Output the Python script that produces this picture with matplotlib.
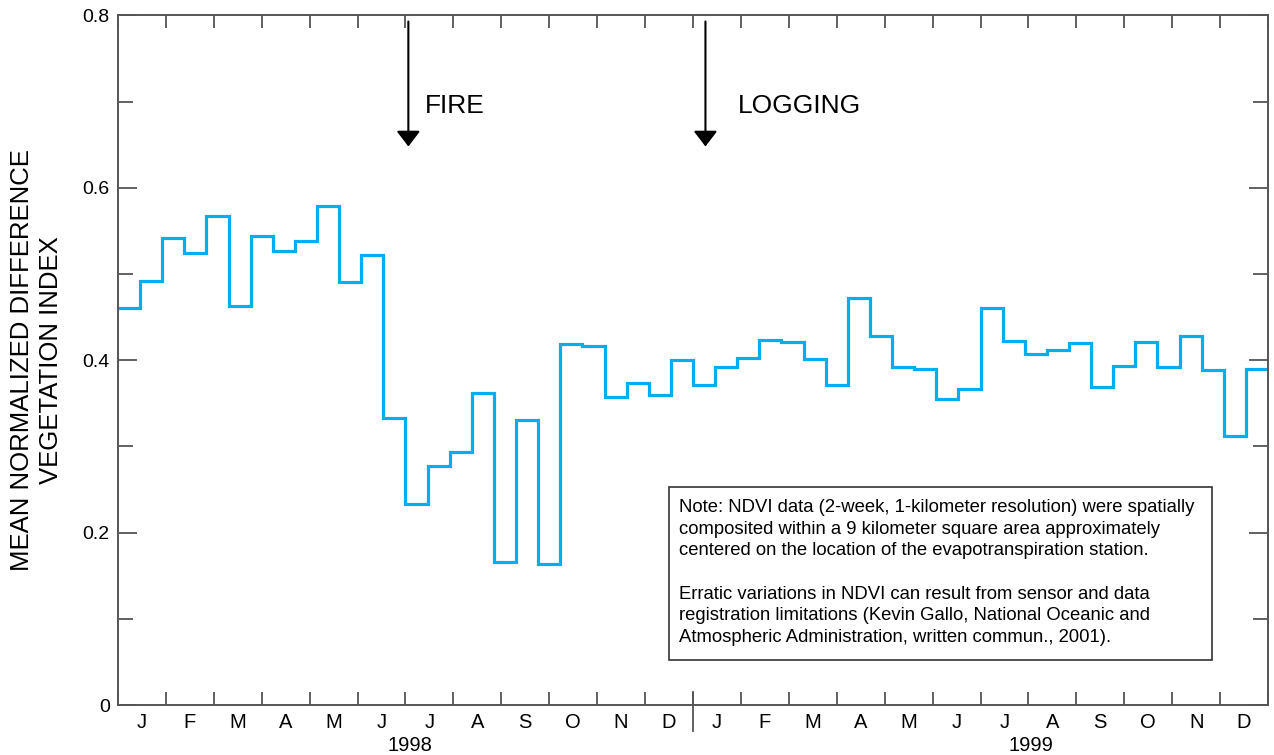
import numpy as np
import matplotlib
matplotlib.use("Agg")
import matplotlib.pyplot as plt
from matplotlib.patches import Rectangle

plt.rcParams['font.family'] = ['Liberation Sans', 'DejaVu Sans']

# 2-week NDVI composites, Jan 1998 - Dec 1999
ndvi = [0.461, 0.492, 0.542, 0.525, 0.567, 0.463, 0.544, 0.527, 0.538, 0.579,
        0.491, 0.522, 0.333, 0.233, 0.277, 0.294, 0.362, 0.166, 0.331, 0.164,
        0.419, 0.417, 0.357, 0.374, 0.360, 0.400, 0.371, 0.392, 0.403, 0.424,
        0.421, 0.401, 0.371, 0.472, 0.428, 0.392, 0.390, 0.355, 0.367, 0.461,
        0.422, 0.407, 0.412, 0.420, 0.369, 0.393, 0.421, 0.392, 0.428, 0.389,
        0.312, 0.390]
month_labels = ['J', 'F', 'M', 'A', 'M', 'J', 'J', 'A', 'S', 'O', 'N', 'D'] * 2
years = ['1998', '1999']
year_pos = [6.1, 19.06]
events = ['FIRE', 'LOGGING']
event_month = [6.06, 12.26]
event_text_x = [6.41, 12.93]

note = ("Note: NDVI data (2-week, 1-kilometer resolution) were spatially\n"
        "composited within a 9 kilometer square area approximately\n"
        "centered on the location of the evapotranspiration station.\n"
        "\n"
        "Erratic variations in NDVI can result from sensor and data\n"
        "registration limitations (Kevin Gallo, National Oceanic and\n"
        "Atmospheric Administration, written commun., 2001).")

axcol = '#555555'
edges = np.linspace(0, 24, len(ndvi) + 1)

fig = plt.figure(figsize=(12.74, 7.55), dpi=100)
ax = fig.add_axes([0.0926, 0.0662, 0.9027, 0.9133])

ax.stairs(ndvi, edges, baseline=None, color='#00aeef', lw=2.3)

ax.set_xlim(0, 24)
ax.set_ylim(0, 0.8)

# month ticks (lines) and month labels (minor, centred)
ax.set_xticks(np.arange(0, 25))
ax.set_xticklabels([])
ax.set_xticks(np.arange(0.5, 24), minor=True)
ax.set_xticklabels(month_labels, minor=True)
ax.tick_params(axis='x', which='major', direction='in', length=9.5, width=1.3,
               color=axcol, top=True, bottom=True)
ax.tick_params(axis='x', which='minor', length=0, pad=6, labelsize=14.5)

ax.set_yticks([0, 0.2, 0.4, 0.6, 0.8])
ax.set_yticklabels(['0', '0.2', '0.4', '0.6', '0.8'])
ax.set_yticks(np.arange(0.1, 0.8, 0.2), minor=True)
ax.tick_params(axis='y', which='major', direction='in', length=13.5, width=1.3,
               color=axcol, left=True, right=True, labelsize=14, pad=6)
ax.tick_params(axis='y', which='minor', direction='in', length=10.5, width=1.3,
               color=axcol, left=True, right=True)

for s in ax.spines.values():
    s.set_color(axcol)
    s.set_linewidth(1.4)

# year separator and year labels
ax.plot([12, 12], [-0.038, 0.019], color=axcol, lw=1.3,
        transform=ax.get_xaxis_transform(), clip_on=False)
for yr, xp in zip(years, year_pos):
    ax.text(xp, -0.059, yr, transform=ax.get_xaxis_transform(),
            ha='center', va='center', fontsize=14.5)

ax.set_ylabel('MEAN NORMALIZED DIFFERENCE\nVEGETATION INDEX', fontsize=18.5,
              linespacing=1.25, labelpad=14)

# event arrows
for ev, xm, xt in zip(events, event_month, event_text_x):
    ax.annotate('', xy=(xm, 0.648), xytext=(xm, 0.793),
                arrowprops=dict(arrowstyle='-|>,head_width=0.36,head_length=0.47',
                                mutation_scale=20, color='black', lw=1.5,
                                shrinkA=0, shrinkB=0))
    ax.text(xt, 0.695, ev, fontsize=19, va='center', ha='left')

# note box
ax.add_patch(Rectangle((0.479, 0.065), 0.472, 0.251, transform=ax.transAxes,
                       fill=False, edgecolor='#333333', lw=1.2))
ax.text(0.488, 0.299, note, transform=ax.transAxes, fontsize=13.3,
        va='top', ha='left', linespacing=1.36)

fig.savefig('out.png', dpi=100)
